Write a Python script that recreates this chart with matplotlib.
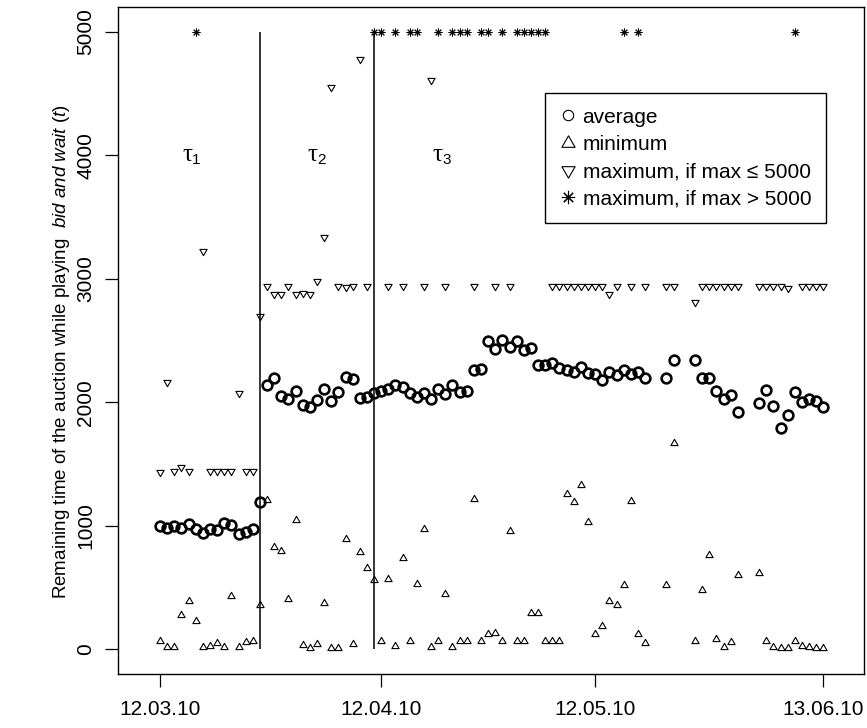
import datetime as dt
import numpy as np
import matplotlib
matplotlib.use("Agg")
import matplotlib.pyplot as plt
import matplotlib.dates as mdates
from matplotlib.lines import Line2D
from matplotlib.path import Path

plt.rcParams['font.family'] = ['Liberation Sans', 'DejaVu Sans']
plt.rcParams['mathtext.fontset'] = 'custom'
plt.rcParams['mathtext.rm'] = 'Liberation Sans'
plt.rcParams['mathtext.it'] = 'Liberation Sans:italic'

nan = np.nan

# one entry per day, starting 12.03.10 (nan = no auctions that day)
start = dt.datetime(2010, 3, 12)

avg_vals = [998, 985, 998, 985, 1011, 971, 944, 971, 965, 1019, 1006, 930, 949, 971, 1192,
            2136, 2195, 2050, 2023, 2090, 1980, 1958, 2017, 2104, 2012, 2082, 2203, 2190, 2033, 2044, 2071,
            2090, 2104, 2136, 2125, 2071, 2044, 2071, 2023, 2109, 2063, 2136, 2082, 2090, 2260, 2271,
            2492, 2433, 2503, 2449, 2492, 2422, 2438, 2303, 2298, 2314, 2276, 2265, 2249, 2287, 2238,
            2228, 2184, 2249, 2222, 2260, 2228, 2244, 2195, nan, nan, 2195, 2341, nan, nan, 2341,
            2200, 2200, 2093, 2028, 2055, 1920, nan, nan, 1996, 2098, 1969, 1793, 1898, 2087, 2001,
            2028, 2012, 1958]

min_vals = [67, 22, 22, 281, 388, 229, 22, 27, 54, 22, 431, 22, 59, 67, 356,
            1205, 831, 793, 405, 1044, 32, 13, 40, 378, 13, 13, 895, 46, 787, 655, 561,
            67, 572, 27, 742, 67, 531, 976, 19, 67, 450, 19, 67, 67, 1219, 67,
            127, 135, 67, 957, 67, 67, 297, 297, 67, 67, 67, 1260, 1195, 1332, 1030,
            127, 189, 391, 359, 521, 1197, 127, 54, nan, nan, 521, 1672, nan, nan, 67,
            477, 763, 86, 19, 59, 604, nan, nan, 620, 67, 19, 14, 14, 67, 27,
            19, 14, 14]

# daily maximum; nan where it exceeded 5000 (see over_5000_days) or no data
max_vals = [1435, 2163, 1440, 1478, 1440, nan, 3222, 1440, 1440, 1440, 1440, 2071, 1440, 1440, 2702,
            2940, 2880, 2880, 2940, 2880, 2885, 2880, 2985, 3339, 4552, 2940, 2930, 2940, 4779, 2940, nan,
            nan, 2940, nan, 2940, nan, nan, 2940, 4605, nan, 2940, nan, nan, nan, 2940, nan,
            nan, 2940, nan, 2940, nan, nan, nan, nan, nan, 2940, 2940, 2940, 2940, 2940, 2940,
            2940, 2940, 2880, 2940, nan, 2940, nan, 2940, nan, nan, 2940, 2940, nan, nan, 2810,
            2940, 2940, 2940, 2940, 2940, 2940, nan, nan, 2940, 2940, 2940, 2940, 2923, nan, 2940,
            2940, 2940, 2940]

over_5000_days = [5, 30, 31, 33, 35, 36, 39, 41, 42, 43, 45, 46, 48, 50, 51, 52, 53, 54, 65, 67, 89]
cap = 5000

# phase boundaries (day index) and labels
phase_breaks = [14, 30]
phase_labels = [(4.5, 1), (22.0, 2), (39.55, 3)]

tick_dates = [dt.datetime(2010, 3, 12), dt.datetime(2010, 4, 12),
              dt.datetime(2010, 5, 12), dt.datetime(2010, 6, 13)]

x0 = mdates.date2num(start)
x = x0 + np.arange(len(avg_vals))

tri_up = Path([(0, 1), (-0.866, -0.5), (0.866, -0.5), (0, 1)], closed=True)
tri_down = Path([(0, -1), (-0.866, 0.5), (0.866, 0.5), (0, -1)], closed=True)
asterisk = (8, 2, 0)

fig = plt.figure(figsize=(8.67, 7.28), dpi=100)
ax = fig.add_axes([118 / 867, 1 - 674 / 728, 746 / 867, 667 / 728])

ax.vlines(x0 + np.array(phase_breaks), 0, cap, colors='k', lw=1.1, zorder=1)

ax.plot(x, min_vals, ls='none', marker=tri_up, ms=6.0, mfc='none', mec='k', mew=0.8, zorder=2)
ax.plot(x, max_vals, ls='none', marker=tri_down, ms=6.0, mfc='none', mec='k', mew=0.8, zorder=2)
ax.plot(x0 + np.array(over_5000_days), [cap] * len(over_5000_days), ls='none',
        marker=asterisk, ms=5.6, mec='k', mew=0.7, zorder=2)
ax.plot(x, avg_vals, ls='none', marker='o', ms=7.0, mfc='none', mec='k', mew=1.9, zorder=3)

for day, k in phase_labels:
    ax.text(x0 + day, 3950, 'τ', family='Liberation Serif', fontsize=18, ha='right', va='baseline')
    ax.text(x0 + day, 3925, str(k), fontsize=11, ha='left', va='baseline')

ax.set_xlim(x0 - 5.9, x0 + 98.7)
ax.set_ylim(-200, 5200)
ax.set_xticks(mdates.date2num(tick_dates))
ax.xaxis.set_major_formatter(mdates.DateFormatter('%d.%m.%y'))
ax.set_yticks(np.arange(0, 5001, 1000))

ax.tick_params(direction='out', length=9.5, width=0.9, labelsize=15, colors='k')
ax.tick_params(axis='x', pad=9)
ax.tick_params(axis='y', pad=7, labelrotation=90)
plt.setp(ax.get_yticklabels(), va='center')
for s in ax.spines.values():
    s.set_linewidth(1.0)

ax.set_ylabel(r'Remaining time of the auction while playing  $\it{bid\ and\ wait}$ ($\it{t}$)',
              fontsize=13.5)
ax.yaxis.set_label_coords(-0.062, 0.484)

handles = [
    Line2D([], [], ls='none', marker='o', ms=7.5, mfc='none', mec='k', mew=0.8),
    Line2D([], [], ls='none', marker=tri_up, ms=11, mfc='none', mec='k', mew=0.8),
    Line2D([], [], ls='none', marker=tri_down, ms=11, mfc='none', mec='k', mew=0.8),
    Line2D([], [], ls='none', marker=asterisk, ms=9.5, mec='k', mew=0.8),
]
labels = ['average', 'minimum', 'maximum, if max ≤ 5000', 'maximum, if max > 5000']
leg = ax.legend(handles, labels, loc='upper left', bbox_to_anchor=(0.5724, 0.871),
                fontsize=15, frameon=True, fancybox=False, edgecolor='k', framealpha=1,
                handlelength=0.8, handletextpad=0.3, borderpad=0.7, labelspacing=0.4,
                borderaxespad=0)
leg.get_frame().set_linewidth(1.0)

fig.savefig('out.png', dpi=100)
